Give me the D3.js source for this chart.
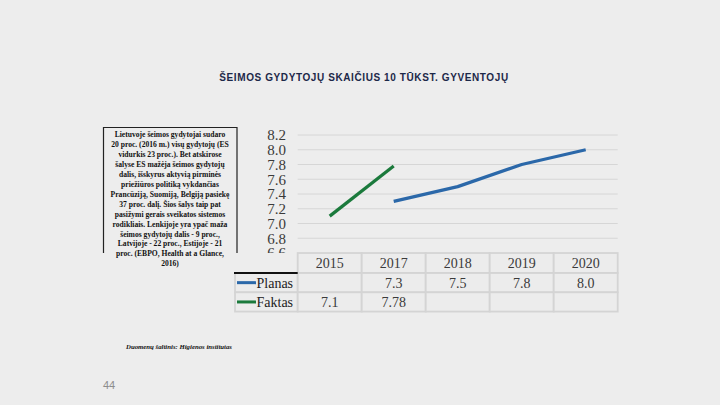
<!DOCTYPE html>
<html>
<head>
<meta charset="utf-8">
<script src="https://cdn.jsdelivr.net/npm/d3@7"></script>
<style>
  body { margin: 0; background: #ededed; }
  svg { display: block; }
</style>
</head>
<body>
<div id="chart"></div>
<script>
// Data
var years = ["2015", "2017", "2018", "2019", "2020"];
var planas = [null, 7.3, 7.5, 7.8, 8.0];
var faktas = [7.1, 7.78, null, null, null];
var yTicks = [6.6, 6.8, 7.0, 7.2, 7.4, 7.6, 7.8, 8.0, 8.2];
var seriesNames = ["Planas", "Faktas"];
var seriesColors = ["#2b68a9", "#1b7a3c"];

var noteLines = [
  "Lietuvoje šeimos gydytojai sudaro",
  "20 proc. (2016 m.) visų gydytojų (ES",
  "vidurkis 23 proc.). Bet atskirose",
  "šalyse ES mažėja šeimos gydytojų",
  "dalis, išskyrus aktyvią pirminės",
  "priežiūros politiką vykdančias",
  "Prancūziją, Suomiją, Belgiją pasiekę",
  "37 proc. dalį. Šios šalys taip pat",
  "pasižymi gerais sveikatos sistemos",
  "rodikliais. Lenkijoje yra ypač maža",
  "šeimos gydytojų dalis -  9 proc.,",
  "Latvijoje - 22 proc., Estijoje -  21",
  "proc. (EBPO, Health at a Glance,",
  "2016)"
];

// Parameters
var width = 720,
    height = 405,
    plotLeft = 297.7,
    plotRight = 617.7,
    plotTop = 135,
    plotBottom = 253,
    rowH = 19.3;

var svg = d3.select("#chart").append("svg")
    .attr("width", width)
    .attr("height", height);

svg.append("rect")
    .attr("width", width)
    .attr("height", height)
    .style("fill", "#ededed");

var x = d3.scaleBand()
    .domain(years)
    .range([plotLeft, plotRight])
    .padding(0);

var y = d3.scaleLinear()
    .domain([6.6, 8.2])
    .range([plotBottom, plotTop]);

// Title
svg.append("text")
    .attr("x", 364)
    .attr("y", 81)
    .attr("text-anchor", "middle")
    .text("ŠEIMOS GYDYTOJŲ SKAIČIUS 10 TŪKST. GYVENTOJŲ")
    .style("font", "bold 10px 'Liberation Sans', Arial, sans-serif")
    .style("letter-spacing", "0.6px")
    .style("fill", "#1c2849");

// Note box (bottom edge hidden behind the chart)
svg.append("path")
    .attr("d", "M103.5,253V127.5H237V253")
    .style("fill", "none")
    .style("stroke", "#222")
    .style("stroke-width", 1.2);

var note = svg.append("g").attr("class", "note");
note.selectAll("text")
    .data(noteLines)
  .enter().append("text")
    .attr("x", 170)
    .attr("y", function(d, i) { return 137 + i * 9.95; })
    .attr("text-anchor", "middle")
    .text(function(d) { return d; })
    .style("font", "bold 7.6px 'Liberation Serif', 'Times New Roman', serif")
    .style("fill", "#111")
    .each(function() {
      var w = this.getComputedTextLength();
      if (w > 124) {
        d3.select(this).attr("textLength", 124).attr("lengthAdjust", "spacingAndGlyphs");
      }
    });

// Clip for the axis labels
svg.append("clipPath")
    .attr("id", "plotClip")
  .append("rect")
    .attr("x", 240)
    .attr("y", 120)
    .attr("width", 400)
    .attr("height", plotBottom - 120);

// Gridlines
svg.append("g")
    .attr("class", "grid")
  .selectAll("line")
    .data(yTicks.slice(1))
  .enter().append("line")
    .attr("x1", plotLeft)
    .attr("x2", plotRight)
    .attr("y1", function(d) { return y(d); })
    .attr("y2", function(d) { return y(d); })
    .style("stroke", "#d6d6d6")
    .style("stroke-width", 1);

// Y labels
svg.append("g")
    .attr("clip-path", "url(#plotClip)")
  .selectAll("text")
    .data(yTicks)
  .enter().append("text")
    .attr("x", 286)
    .attr("y", function(d) { return y(d); })
    .attr("dy", "0.35em")
    .attr("text-anchor", "end")
    .text(function(d) { return d3.format(".1f")(d); })
    .style("font", "15px 'Liberation Serif', 'Times New Roman', serif")
    .style("fill", "#3a3a3a");

// Lines
var line = d3.line()
    .defined(function(d) { return d.v != null; })
    .x(function(d) { return x(d.year) + x.bandwidth() / 2; })
    .y(function(d) { return y(d.v); });

[planas, faktas].forEach(function(vals, k) {
  var pts = years.map(function(yr, i) { return { year: yr, v: vals[i] }; });
  svg.append("path")
      .datum(pts)
      .attr("d", line)
      .style("fill", "none")
      .style("stroke", seriesColors[k])
      .style("stroke-width", 3.2)
      .style("stroke-linejoin", "round");
});

// Data table
var table = svg.append("g").attr("class", "table");
var tblTop = plotBottom;
var cellStroke = "#d4d4d4";

// header cells
years.forEach(function(yr) {
  table.append("rect")
      .attr("x", x(yr))
      .attr("y", tblTop)
      .attr("width", x.bandwidth())
      .attr("height", 20)
      .style("fill", "#ececec")
      .style("stroke", cellStroke)
      .style("stroke-width", 1.8);
  table.append("text")
      .attr("x", x(yr) + x.bandwidth() / 2)
      .attr("y", tblTop + 10)
      .attr("dy", "0.35em")
      .attr("text-anchor", "middle")
      .text(yr)
      .style("font", "14px 'Liberation Serif', 'Times New Roman', serif")
      .style("fill", "#3a3a3a");
});

[planas, faktas].forEach(function(vals, k) {
  var ry = tblTop + 20 + k * rowH;
  table.append("rect")
      .attr("x", 235)
      .attr("y", ry)
      .attr("width", plotLeft - 235)
      .attr("height", rowH)
      .style("fill", "#ececec")
      .style("stroke", cellStroke)
      .style("stroke-width", 1.8);
  table.append("line")
      .attr("x1", 237)
      .attr("x2", 256)
      .attr("y1", ry + rowH / 2)
      .attr("y2", ry + rowH / 2)
      .style("stroke", seriesColors[k])
      .style("stroke-width", 3);
  table.append("text")
      .attr("x", 256.5)
      .attr("y", ry + rowH / 2)
      .attr("dy", "0.35em")
      .text(seriesNames[k])
      .style("font", "14px 'Liberation Serif', 'Times New Roman', serif")
      .style("fill", "#222");
  years.forEach(function(yr, i) {
    table.append("rect")
        .attr("x", x(yr))
        .attr("y", ry)
        .attr("width", x.bandwidth())
        .attr("height", rowH)
        .style("fill", "#ececec")
        .style("stroke", cellStroke)
        .style("stroke-width", 1.8);
    if (vals[i] != null) {
      table.append("text")
          .attr("x", x(yr) + x.bandwidth() / 2)
          .attr("y", ry + rowH / 2)
          .attr("dy", "0.35em")
          .attr("text-anchor", "middle")
          .text(k === 0 ? d3.format(".1f")(vals[i]) : String(vals[i]))
          .style("font", "14px 'Liberation Serif', 'Times New Roman', serif")
          .style("fill", "#3a3a3a");
    }
  });
});

// dark rule above the legend column
table.append("line")
    .attr("x1", 234)
    .attr("x2", plotLeft)
    .attr("y1", tblTop + 20)
    .attr("y2", tblTop + 20)
    .style("stroke", "#111")
    .style("stroke-width", 2);

// Source
svg.append("text")
    .attr("x", 126)
    .attr("y", 349)
    .text("Duomenų šaltinis: Higienos institutas")
    .attr("textLength", 106)
    .attr("lengthAdjust", "spacingAndGlyphs")
    .style("font", "italic bold 7px 'Liberation Serif', 'Times New Roman', serif")
    .style("fill", "#111");

// Page number
svg.append("text")
    .attr("x", 103)
    .attr("y", 389)
    .text("44")
    .style("font", "11px 'Liberation Sans', Arial, sans-serif")
    .style("fill", "#8c8c8c");
</script>
</body>
</html>
